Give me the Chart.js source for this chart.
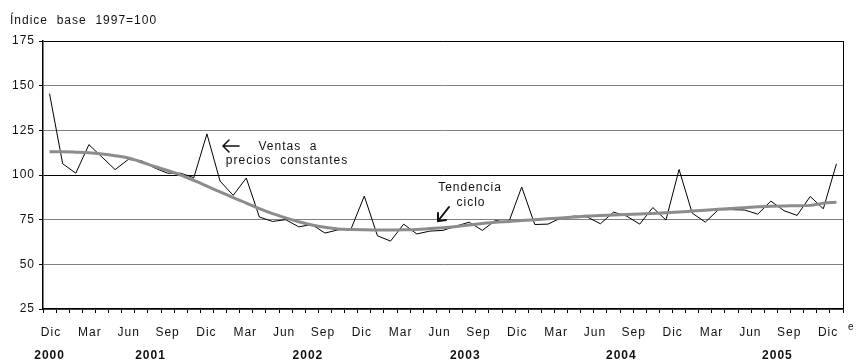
<!DOCTYPE html>
<html>
<head>
<meta charset="utf-8">
<script src="https://cdn.jsdelivr.net/npm/chart.js@4.4.1/dist/chart.umd.min.js"></script>
<style>
  body { margin: 0; background: #fff; }
  canvas { display: block; }
</style>
</head>
<body>
<canvas id="ventas-chart" width="858" height="362"></canvas>
<script>
// meses desde dic 2000 hasta dic 2005
const months = [
  'Dic',
  'Ene', 'Feb', 'Mar', 'Abr', 'May', 'Jun', 'Jul', 'Ago', 'Sep', 'Oct', 'Nov', 'Dic',
  'Ene', 'Feb', 'Mar', 'Abr', 'May', 'Jun', 'Jul', 'Ago', 'Sep', 'Oct', 'Nov', 'Dic',
  'Ene', 'Feb', 'Mar', 'Abr', 'May', 'Jun', 'Jul', 'Ago', 'Sep', 'Oct', 'Nov', 'Dic',
  'Ene', 'Feb', 'Mar', 'Abr', 'May', 'Jun', 'Jul', 'Ago', 'Sep', 'Oct', 'Nov', 'Dic',
  'Ene', 'Feb', 'Mar', 'Abr', 'May', 'Jun', 'Jul', 'Ago', 'Sep', 'Oct', 'Nov', 'Dic'
];
const years = ['2000', '2001', '2002', '2003', '2004', '2005'];

const ventas = [
  145.5,
  106.3, 101, 117, 110, 103, 108.7, 108, 104, 101, 101, 98.5, 123,
  96.6, 88.6, 98.3, 76.5, 74, 75, 71, 72.3, 67.5, 69.3, 70, 88.2,
  66, 63, 72.5, 67, 68.6, 69, 71.4, 73.6, 69, 74.6, 73.3, 93.3,
  72.3, 72.5, 76, 77, 76.5, 72.7, 79.2, 77, 72.5, 81.8, 74.8, 103.1,
  78.7, 73.6, 80.6, 80.6, 80.4, 78.1, 85.4, 80, 77.4, 88, 81.1, 106.3
];
const tendencia = [
  113,
  113, 112.8, 112.5, 111.8, 110.8, 109.5, 107.3, 104.8, 102.5, 100, 97, 93.8,
  90.5, 87.3, 84.3, 81.2, 78.4, 76, 73.8, 72, 70.7, 69.8, 69.5, 69.3,
  69.2, 69.2, 69.3, 69.5, 70, 70.5, 71.2, 72, 72.8, 73.5, 74, 74.5,
  75, 75.5, 76, 76.5, 77, 77.3, 77.6, 77.9, 78.2, 78.5, 78.9, 79.3,
  79.8, 80.3, 80.8, 81.3, 81.7, 82.2, 82.5, 82.7, 82.8, 83, 84.2, 84.7
];

const FONT = '"Liberation Sans", Arial, sans-serif';
// posición (en meses) donde va cada etiqueta de año
const yearAt = [0, 7.7, 19.7, 31.7, 43.6, 55.5];

const extras = {
  id: 'extras',
  beforeDraw(chart) {
    chart.ctx.letterSpacing = '1px';
  },
  afterDraw(chart) {
    const { ctx, chartArea: a, scales: { x } } = chart;
    ctx.save();
    ctx.letterSpacing = '1px';
    ctx.fillStyle = '#111';
    ctx.strokeStyle = '#000';

    // borde derecho
    ctx.lineWidth = 1;
    ctx.beginPath();
    ctx.moveTo(a.right + 0.5, a.top);
    ctx.lineTo(a.right + 0.5, a.bottom);
    ctx.stroke();

    ctx.font = '12px ' + FONT;
    ctx.textAlign = 'left';
    ctx.textBaseline = 'alphabetic';
    ctx.fillText('Índice  base  1997=100', 10, 24);

    // meses cada trimestre, repartidos un poco más apretados que los puntos
    ctx.textAlign = 'center';
    const step = (a.width - 10) / months.length;
    months.forEach((m, i) => {
      if (i % 3 === 0) ctx.fillText(m, a.left + 8 + i * step, 336);
    });

    // años bajo los meses
    ctx.font = 'bold 12px ' + FONT;
    years.forEach((yr, k) => {
      ctx.fillText(yr, x.getPixelForValue(yearAt[k]), 359);
    });

    ctx.font = '10px ' + FONT;
    ctx.textAlign = 'left';
    ctx.fillText('e', 848, 330);

    // rótulos de las series
    ctx.font = '12px ' + FONT;
    ctx.textAlign = 'center';
    ctx.fillText('Ventas  a', 288, 150);
    ctx.fillText('precios  constantes', 287, 164);
    ctx.fillText('Tendencia', 470, 191);
    ctx.fillText('ciclo', 471, 206);

    ctx.strokeStyle = '#111';
    ctx.lineWidth = 1.5;
    ctx.lineCap = 'round';
    ctx.beginPath();
    ctx.moveTo(239, 146); ctx.lineTo(223, 146);
    ctx.moveTo(229, 140); ctx.lineTo(223, 146); ctx.lineTo(229, 152);
    ctx.stroke();

    ctx.lineWidth = 2;
    ctx.beginPath();
    ctx.moveTo(449, 207); ctx.lineTo(438, 221);
    ctx.moveTo(438, 213); ctx.lineTo(438, 221); ctx.lineTo(446, 220);
    ctx.stroke();
    ctx.restore();
  }
};

new Chart(document.getElementById('ventas-chart'), {
  type: 'line',
  data: {
    labels: months,
    datasets: [
      {
        label: 'Tendencia ciclo',
        data: tendencia,
        borderColor: '#8c8c8c',
        borderWidth: 3,
        cubicInterpolationMode: 'monotone',
        pointRadius: 0,
        order: 0
      },
      {
        label: 'Ventas a precios constantes',
        data: ventas,
        borderColor: '#000',
        borderWidth: 1,
        tension: 0,
        pointRadius: 0,
        order: 1
      }
    ]
  },
  options: {
    responsive: false,
    animation: false,
    layout: { padding: { top: 41, right: 15, left: 0, bottom: 0 } },
    plugins: {
      legend: { display: false },
      tooltip: { enabled: false }
    },
    scales: {
      x: {
        offset: true,
        afterFit: s => { s.height = 53; },
        border: { color: '#000', width: 1.5 },
        grid: {
          offset: true,
          drawOnChartArea: false,
          tickLength: 4,
          color: '#000'
        },
        ticks: {
          display: false,
          autoSkip: false
        }
      },
      y: {
        min: 25,
        max: 175,
        afterFit: s => { s.width = 43; },
        border: { color: '#000', width: 1.5 },
        grid: {
          tickLength: 4,
          tickColor: '#000',
          color: c => (c.tick.value === 100 || c.tick.value === 175 ? '#000' : '#808080')
        },
        ticks: {
          stepSize: 25,
          padding: 4,
          color: '#111',
          font: { family: FONT, size: 12 }
        }
      }
    }
  },
  plugins: [extras]
});
</script>
</body>
</html>
